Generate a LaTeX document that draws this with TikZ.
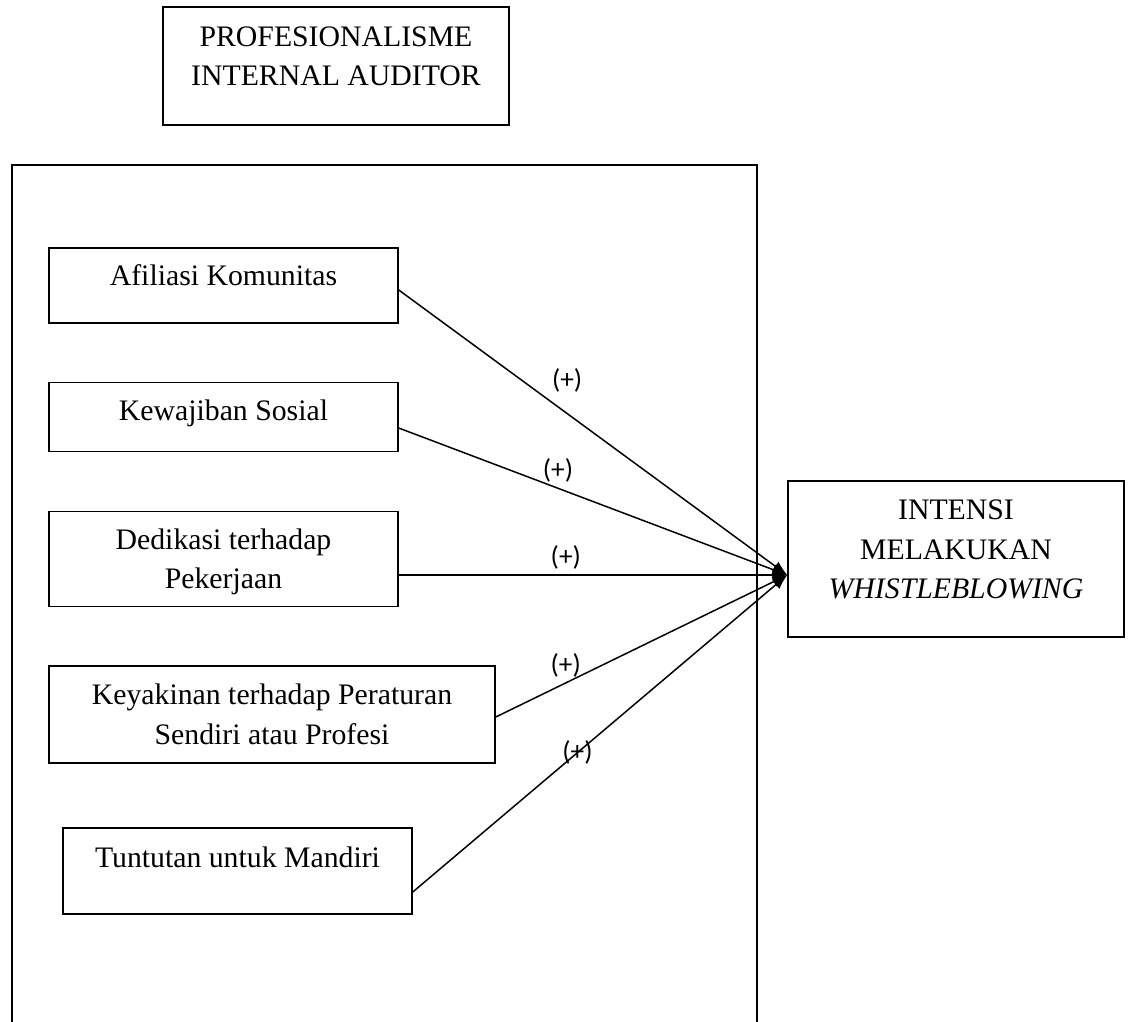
\documentclass[tikz,border=0pt]{standalone}
\usepackage{fontspec}
\setmainfont{Liberation Serif}
\newfontfamily\signfont{Carlito}
\usetikzlibrary{arrows.meta}
\newcommand\px{0.4032pt}
\tikzset{>={Latex[length=6pt,width=4.5pt]}}
\tikzset{
  box/.style={draw, align=center, inner sep=0pt, text height=#1, text depth=9pt,
    font=\fontsize{12pt}{16pt}\selectfont},
  box/.default=9pt,
  effect/.style={font=\signfont\fontsize{11pt}{13pt}\selectfont, inner sep=2pt}
}

\begin{document}
\begin{tikzpicture}[x=\px, y=-\px, line width=0.6pt]
    \useasboundingbox (0,0) rectangle (1131,1021);
    \clip (0,0) rectangle (1131,1021);
    % outer frame, runs off the bottom of the page
    \draw (12,165) rectangle (757,1060);

    \node[box=25pt, minimum width=346*\px, minimum height=118*\px] (prof) at (336,66) {PROFESIONALISME\\INTERNAL AUDITOR};
    \node[box, minimum width=349*\px, minimum height=75*\px] (afiliasi) at (223.5,285.5) {Afiliasi Komunitas};
    \node[box, text depth=6pt, minimum width=349*\px, minimum height=69*\px] (kewajiban) at (223.5,417) {Kewajiban Sosial};
    \node[box=25pt, text depth=1pt, minimum width=349*\px, minimum height=95*\px] (dedikasi) at (223.5,559) {Dedikasi terhadap\\Pekerjaan};
    \node[box=25pt, text depth=1pt, minimum width=446*\px, minimum height=97*\px] (keyakinan) at (272,714.5) {Keyakinan terhadap Peraturan\\Sendiri atau Profesi};
    \node[box, text depth=12pt, minimum width=349*\px, minimum height=86*\px] (tuntutan) at (237.5,871) {Tuntutan untuk Mandiri};
    \node[box=41pt, minimum width=336*\px, minimum height=156*\px] (intensi) at (956,559) {INTENSI\\MELAKUKAN\\\textit{WHISTLEBLOWING}};

    \coordinate (tip) at ([yshift=-16*\px]intensi.west);

    \draw[->] ([yshift=-4.5*\px]afiliasi.east) -- node[effect, pos=0.38, above right] {(+)} (tip);
    \draw[->] ([yshift=-11*\px]kewajiban.east) -- node[effect, pos=0.41, above] {(+)} (tip);
    \draw[->] ([yshift=-16*\px]dedikasi.east) -- node[effect, pos=0.43, above] {(+)} (tip);
    \draw[->] ([yshift=-2.5*\px]keyakinan.east) -- node[effect, pos=0.24, above] {(+)} (tip);
    \draw[->] ([yshift=-21*\px]tuntutan.east) -- node[effect, pos=0.44] {(+)} (tip);

\end{tikzpicture}
\end{document}
